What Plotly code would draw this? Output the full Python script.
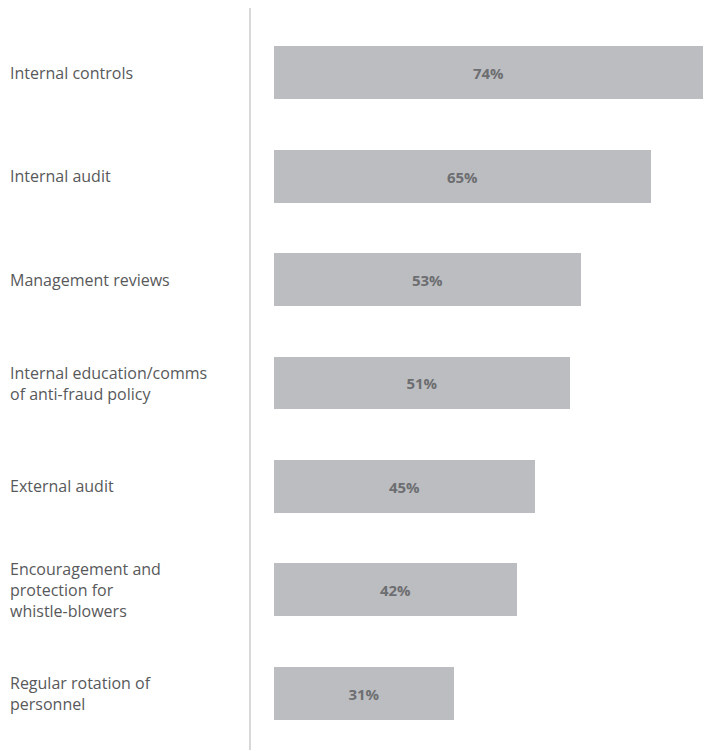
import plotly.graph_objects as go

categories = [
    "Internal controls",
    "Internal audit",
    "Management reviews",
    "Internal education/comms<br>of anti-fraud policy",
    "External audit",
    "Encouragement and<br>protection for<br>whistle-blowers",
    "Regular rotation of<br>personnel",
]
values = [74, 65, 53, 51, 45, 42, 31]
value_labels = [f"{v}%" for v in values]

BAR_COLOR = "#bcbdc0"
VALUE_COLOR = "#6d6e71"
LABEL_COLOR = "#58595b"
FONT = "Open Sans, Liberation Sans, sans-serif"

W, H = 707, 751
ML, MR, MT, MB = 274, 0, 21, 6
plot_w = W - ML - MR
plot_h = H - MT - MB
x_max = 74 * plot_w / 429.0

fig = go.Figure(
    go.Bar(
        x=values,
        y=list(range(len(categories))),
        orientation="h",
        marker=dict(color=BAR_COLOR, line=dict(width=0)),
        width=0.51,
        text=value_labels,
        textposition="inside",
        insidetextanchor="middle",
        textangle=0,
        textfont=dict(family=FONT, size=15, color=VALUE_COLOR, weight="bold"),
        hoverinfo="skip",
    )
)

# Category labels at left, one annotation per text line for tight line spacing
line_gap = 21
annotations = []
for i, lab in enumerate(categories):
    lines = lab.split("<br>")
    n = len(lines)
    for j, ln in enumerate(lines):
        offset = ((n - 1) / 2.0 - j) * line_gap
        annotations.append(
            dict(
                x=(8 - ML) / plot_w,
                xref="paper",
                y=i,
                yref="y",
                text=ln,
                showarrow=False,
                xanchor="left",
                yanchor="middle",
                yshift=offset,
                font=dict(family=FONT, size=16, color=LABEL_COLOR),
            )
        )

# vertical divider between labels and bars, from y=8px to y=750px
line_x = (250 - ML) / plot_w
fig.update_layout(
    width=W,
    height=H,
    margin=dict(l=ML, r=MR, t=MT, b=MB),
    paper_bgcolor="white",
    plot_bgcolor="white",
    showlegend=False,
    bargap=0,
    annotations=annotations,
    xaxis=dict(range=[0, x_max], visible=False, fixedrange=True),
    yaxis=dict(
        range=[len(categories) - 0.5, -0.5],
        visible=False,
        fixedrange=True,
    ),
    shapes=[
        dict(
            type="line",
            xref="paper",
            yref="paper",
            x0=line_x,
            x1=line_x,
            y0=(H - MB - 8) / plot_h,
            y1=(H - MB - 750) / plot_h,
            line=dict(color="#b0b1b3", width=1),
        )
    ],
)

fig.write_html("out.html", config={"displayModeBar": False})
